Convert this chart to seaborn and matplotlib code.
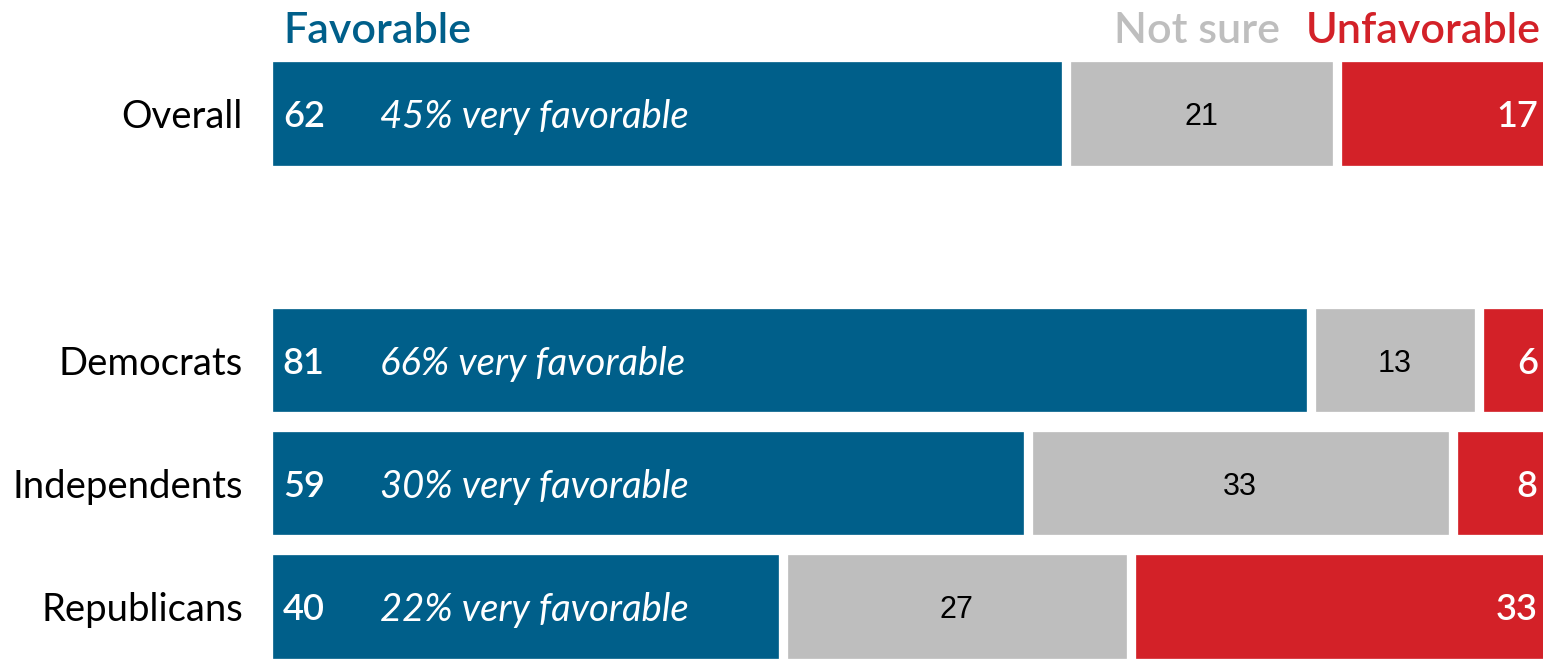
import pandas as pd
import matplotlib.pyplot as plt
import seaborn as sns

# chart data
groups = ['Overall', 'Democrats', 'Independents', 'Republicans']
favorable = [62, 81, 59, 40]
not_sure = [21, 13, 33, 27]
unfavorable = [17, 6, 8, 33]
very_favorable = [45, 66, 30, 22]

# empty slot between Overall and the party rows
slots = ['Overall', ' ', 'Democrats', 'Independents', 'Republicans']

BLUE = '#005f8a'
GRAY = '#bebebe'
RED = '#d32128'

df = pd.DataFrame({'group': groups, 'fav': favorable, 'ns': not_sure,
                   'unf': unfavorable, 'very': very_favorable})
df['fav_ns'] = df['fav'] + df['ns']
df['total'] = df['fav_ns'] + df['unf']

sns.set_theme(style='white')
plt.rcParams['font.family'] = ['Lato', 'DejaVu Sans']

fig = plt.figure(figsize=(15.43, 6.59), dpi=100)
ax = fig.add_axes([267.8 / 1543, 0, 1288 / 1543, 1])

# stacked bars: draw cumulative totals back to front
for col, color in [('total', RED), ('fav_ns', GRAY), ('fav', BLUE)]:
    sns.barplot(data=df, x=col, y='group', order=slots, color=color,
                saturation=1, width=0.91, edgecolor='white', linewidth=6.7,
                orient='h', ax=ax)

ax.set_xlim(0, 100)
ax.set_ylim(4.426, -0.921)
ax.set_xlabel('')
ax.set_ylabel('')
ax.set_xticks([])
ax.tick_params(axis='y', length=0, pad=18, labelsize=27.5, labelcolor='black')
for lab in ax.get_yticklabels():
    lab.set_va('center_baseline')
for s in ax.spines.values():
    s.set_visible(False)

# value labels
for _, row in df.iterrows():
    y = slots.index(row['group'])
    ax.annotate(str(row['fav']), xy=(0, y), xytext=(15, 0), textcoords='offset pixels',
                ha='left', va='center_baseline', color='white', fontsize=26,
                fontweight='semibold')
    ax.annotate(f"{row['very']}% very favorable", xy=(0, y), xytext=(112, 0),
                textcoords='offset pixels', ha='left', va='center_baseline', color='white',
                fontsize=27.5, fontstyle='italic')
    ax.annotate(str(row['ns']), xy=(row['fav'] + row['ns'] / 2, y), ha='center',
                va='center_baseline', color='black', fontsize=22, family='Liberation Sans')
    ax.annotate(str(row['unf']), xy=(row['total'], y), xytext=(-18, 0),
                textcoords='offset pixels', ha='right', va='center_baseline', color='white',
                fontsize=26, fontweight='semibold')

# column headers above the Overall bar
ov = df.iloc[0]
ax.annotate('Favorable', xy=(0, 0), xytext=(16, 83), textcoords='offset pixels',
            ha='left', va='center', color=BLUE, fontsize=31, fontweight='semibold')
ax.annotate('Not sure', xy=(ov['fav'] + ov['ns'] / 2, 0), xytext=(-5, 83),
            textcoords='offset pixels', ha='center', va='center', color=GRAY,
            fontsize=31, fontweight='semibold')
ax.annotate('Unfavorable', xy=(ov['total'], 0), xytext=(-15, 83),
            textcoords='offset pixels', ha='right', va='center', color=RED,
            fontsize=31, fontweight='semibold')

fig.savefig('out.png', dpi=100)
